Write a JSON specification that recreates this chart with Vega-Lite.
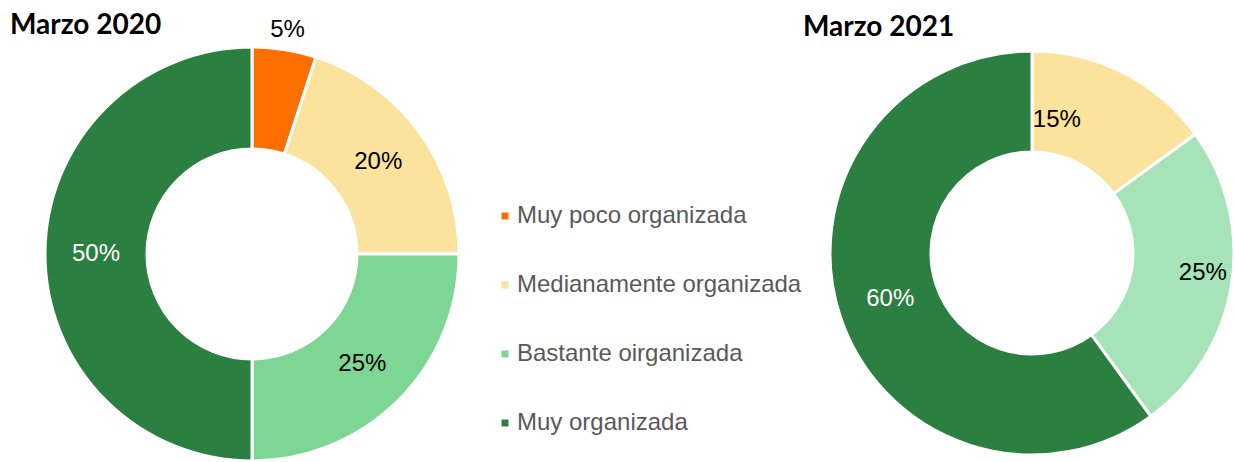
{
  "$schema": "https://vega.github.io/schema/vega-lite/v6.json",
  "padding": {"top": 11, "left": 0, "right": 0, "bottom": 0},
  "background": "white",
  "spacing": 328,
  "bounds": "flush",
  "config": {"view": {"stroke": null}},
  "datasets": {
    "a": [
      {"cat": "Muy poco organizada", "p": 0.05, "k": 1},
      {"cat": "Medianamente organizada", "p": 0.20, "k": 2},
      {"cat": "Bastante oirganizada", "p": 0.25, "k": 3},
      {"cat": "Muy organizada", "p": 0.50, "k": 4}
    ],
    "b": [
      {"cat": "Medianamente organizada", "p": 0.15, "k": 2},
      {"cat": "Bastante oirganizada", "p": 0.25, "k": 3},
      {"cat": "Muy organizada", "p": 0.60, "k": 4}
    ]
  },
  "resolve": {"scale": {"color": "independent", "theta": "independent"}},
  "hconcat": [
    {
      "width": 504,
      "height": 418,
      "title": {"text": "Marzo 2020", "anchor": "start", "frame": "group", "font": "Lato", "fontSize": 28, "fontWeight": "bold", "color": "black", "dx": 10, "offset": -22},
      "data": {"name": "a"},
      "encoding": {
        "theta": {"field": "p", "type": "quantitative", "stack": true},
        "order": {"field": "k", "type": "quantitative"}
      },
      "layer": [
        {
          "mark": {"type": "arc", "outerRadius": 207, "innerRadius": 105, "stroke": "white", "strokeWidth": 3},
          "encoding": {
            "color": {
              "field": "cat", "type": "nominal",
              "scale": {"domain": ["Muy poco organizada", "Medianamente organizada", "Bastante oirganizada", "Muy organizada"], "range": ["#FF6F00", "#FBE29D", "#7DD694", "#2A7F41"]},
              "legend": {"title": null, "orient": "none", "legendX": 493, "legendY": 159, "symbolType": "square", "symbolSize": 49, "symbolStrokeWidth": 0, "labelFont": "Liberation Sans", "labelFontSize": 24, "labelColor": "#595959", "labelOffset": 0, "rowPadding": 45, "labelLimit": 400}
            }
          }
        },
        {
          "mark": {"type": "text", "radius": 156, "font": "Liberation Sans", "fontSize": 24},
          "encoding": {
            "text": {"condition": {"test": "datum.p < 0.1", "value": ""}, "field": "p", "type": "quantitative", "format": ".0%"},
            "color": {"condition": {"test": "datum.cat === 'Muy organizada'", "value": "white"}, "value": "black"}
          }
        },
        {
          "mark": {"type": "text", "radius": 227, "font": "Liberation Sans", "fontSize": 24, "color": "black"},
          "encoding": {
            "text": {"condition": {"test": "datum.p >= 0.1", "value": ""}, "field": "p", "type": "quantitative", "format": ".0%"}
          }
        }
      ]
    },
    {
      "width": 400,
      "height": 416,
      "title": {"text": "Marzo 2021", "anchor": "start", "frame": "group", "font": "Lato", "fontSize": 28, "fontWeight": "bold", "color": "black", "dx": -29, "dy": 4, "offset": 7},
      "data": {"name": "b"},
      "encoding": {
        "theta": {"field": "p", "type": "quantitative", "stack": true},
        "order": {"field": "k", "type": "quantitative"}
      },
      "layer": [
        {
          "mark": {"type": "arc", "outerRadius": 202, "innerRadius": 101, "stroke": "white", "strokeWidth": 3},
          "encoding": {
            "color": {
              "field": "cat", "type": "nominal",
              "scale": {"domain": ["Muy poco organizada", "Medianamente organizada", "Bastante oirganizada", "Muy organizada"], "range": ["#FF6F00", "#FBE29D", "#A6E3B8", "#2A7F41"]},
              "legend": null
            }
          }
        },
        {
          "mark": {"type": "text", "radius": 135, "thetaOffset": -0.286, "font": "Liberation Sans", "fontSize": 24, "color": "black"},
          "encoding": {
            "text": {"condition": {"test": "datum.k !== 2", "value": ""}, "field": "p", "type": "quantitative", "format": ".0%"}
          }
        },
        {
          "mark": {"type": "text", "radius": 172, "thetaOffset": -0.042, "font": "Liberation Sans", "fontSize": 24, "color": "black"},
          "encoding": {
            "text": {"condition": {"test": "datum.k !== 3", "value": ""}, "field": "p", "type": "quantitative", "format": ".0%"}
          }
        },
        {
          "mark": {"type": "text", "radius": 149, "font": "Liberation Sans", "fontSize": 24, "color": "white"},
          "encoding": {
            "text": {"condition": {"test": "datum.k !== 4", "value": ""}, "field": "p", "type": "quantitative", "format": ".0%"}
          }
        }
      ]
    }
  ]
}
